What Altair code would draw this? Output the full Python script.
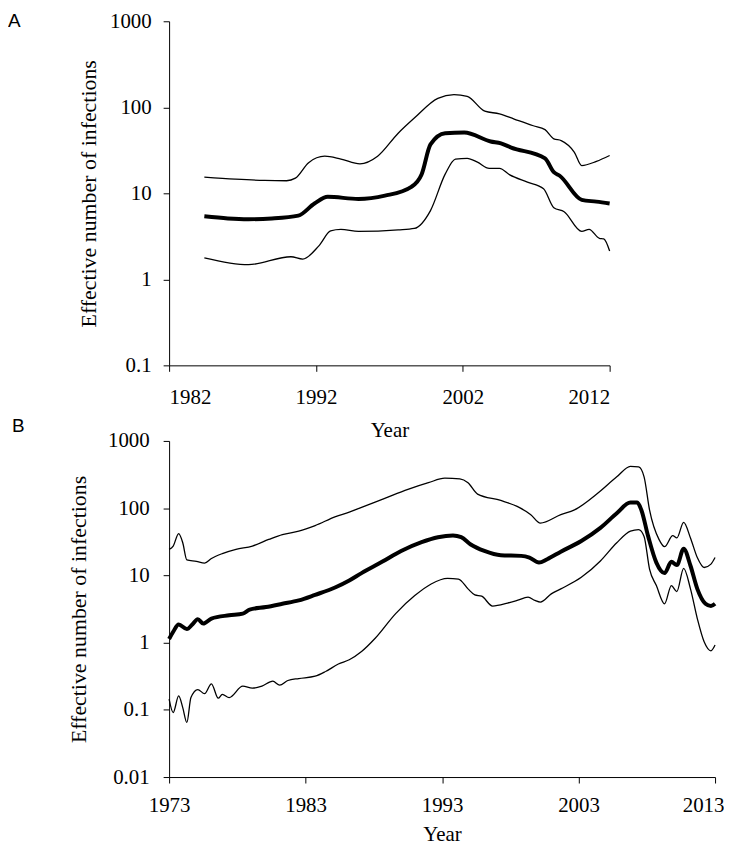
import altair as alt
import pandas as pd

# ---------------- Panel A data (year, effective number of infections) ----------------
A_upper = [(1984.4, 15.4), (1986.5, 14.6), (1988.5, 14.1), (1990.0, 14.0), (1990.6, 15.0),
           (1991.5, 22.7), (1992.6, 27), (1993.7, 25), (1995.0, 22), (1996.2, 27),
           (1997.6, 50), (1998.7, 75), (2000.3, 127), (2001.4, 140), (2002.3, 134),
           (2003.5, 90), (2004.5, 84), (2005.5, 73), (2006.8, 61), (2007.6, 55),
           (2008.2, 43), (2008.7, 41), (2009.6, 30), (2010.1, 21), (2011.1, 23.5), (2012.0, 27.5)]
A_median = [(1984.4, 5.4), (1986.0, 5.1), (1987.4, 5.0), (1989.0, 5.1), (1990.8, 5.5),
            (1991.9, 7.6), (1992.8, 9.1), (1994.9, 8.6), (1996.7, 9.4), (1998.5, 11.9),
            (1999.2, 16.7), (1999.8, 37), (2000.8, 50), (2002.1, 51), (2003.9, 40),
            (2004.6, 38), (2005.3, 34), (2007.6, 25.5), (2008.2, 17.6), (2008.6, 16),
            (2010.1, 8.4), (2011.1, 8.0), (2012.0, 7.6)]
A_lower = [(1984.4, 1.78), (1987.4, 1.48), (1990.3, 1.83), (1991.1, 1.72), (1992.2, 2.45),
           (1993.0, 3.65), (1993.7, 3.8), (1994.9, 3.6), (1997.6, 3.75), (1998.7, 3.9),
           (1999.8, 6.3), (2000.8, 16.7), (2001.5, 25), (2002.3, 25.5), (2003.0, 23),
           (2003.8, 19.5), (2004.5, 19.5), (2005.2, 16.4), (2006.4, 13.5), (2007.5, 11.3),
           (2008.2, 6.8), (2008.9, 6.1), (2010.1, 3.6), (2010.6, 3.8), (2011.3, 3.0),
           (2011.6, 2.95), (2012.0, 2.13)]

# ---------------- Panel B data ----------------
B_upper = [(1973.0, 24.4), (1973.3, 27.3), (1973.7, 41.9), (1974.0, 30.6), (1974.3, 17),
           (1975.0, 16.2), (1975.6, 15.2), (1976.1, 17.8), (1976.9, 21.1), (1977.9, 24.4),
           (1979.1, 27.3), (1980.3, 34.2), (1981.3, 40.5), (1982.5, 45.4), (1983.7, 55),
           (1985.2, 75), (1986.2, 87), (1987.1, 103), (1988.8, 140), (1990.5, 190),
           (1992.0, 239), (1993.2, 279), (1994.3, 273), (1994.9, 239), (1995.6, 162),
           (1997.3, 130), (1998.5, 106), (1999.5, 80), (2000.2, 60), (2001.7, 80),
           (2002.7, 94), (2004.4, 166), (2005.8, 292), (2006.8, 419), (2007.4, 410),
           (2007.8, 292), (2008.2, 94), (2008.9, 34), (2009.3, 26.7), (2009.9, 39),
           (2010.2, 36), (2010.7, 61.5), (2011.2, 36), (2011.7, 18.4), (2012.2, 13.1),
           (2012.7, 14.7), (2013.0, 18.4)]
B_median = [(1973.0, 1.13), (1973.3, 1.45), (1973.7, 1.86), (1974.3, 1.59), (1974.7, 1.86),
            (1975.1, 2.23), (1975.5, 1.92), (1976.1, 2.28), (1977.4, 2.55), (1978.4, 2.7),
            (1978.9, 3.09), (1980.1, 3.38), (1981.3, 3.78), (1982.5, 4.24), (1983.7, 5.13),
            (1985.2, 6.66), (1986.2, 8.4), (1987.1, 10.8), (1988.6, 15.9), (1990.0, 23.1),
            (1991.5, 31.3), (1992.7, 37), (1993.8, 39.2), (1994.4, 37), (1995.1, 28.8),
            (1996.1, 23.1), (1997.3, 19.9), (1998.8, 19.5), (1999.4, 18.4), (2000.1, 15.5),
            (2000.7, 17.4), (2001.7, 22.5), (2003.2, 32.4), (2004.6, 50.8), (2005.8, 84),
            (2006.8, 121), (2007.3, 121), (2007.6, 94), (2008.1, 38), (2008.7, 15.5),
            (2009.3, 10.8), (2009.8, 15.9), (2010.2, 14.2), (2010.7, 24.9), (2011.2, 13.9),
            (2011.7, 6.3), (2012.3, 3.78), (2012.7, 3.5), (2013.0, 3.78)]
B_lower = [(1973.0, 0.144), (1973.3, 0.091), (1973.7, 0.161), (1974.0, 0.108), (1974.3, 0.065),
           (1974.6, 0.152), (1975.1, 0.2), (1975.6, 0.174), (1976.1, 0.244), (1976.6, 0.149),
           (1976.9, 0.17), (1977.4, 0.152), (1978.4, 0.225), (1979.1, 0.21), (1979.8, 0.225),
           (1980.6, 0.267), (1981.1, 0.233), (1981.7, 0.273), (1982.5, 0.292), (1983.7, 0.316),
           (1984.5, 0.375), (1985.4, 0.48), (1986.2, 0.556), (1987.1, 0.737), (1988.1, 1.16),
           (1989.6, 2.7), (1991.0, 5.0), (1992.2, 7.45), (1993.4, 9.0), (1994.2, 8.8),
           (1994.9, 6.3), (1995.4, 5.13), (1995.9, 4.9), (1996.7, 3.5), (1997.8, 3.87),
           (1998.5, 4.24), (1999.3, 4.75), (1999.8, 4.24), (2000.2, 4.0), (2001.0, 5.3),
           (2001.7, 6.3), (2003.2, 9.35), (2004.6, 16.4), (2005.8, 30.6), (2006.8, 45.4),
           (2007.4, 48), (2007.8, 38), (2008.2, 12.4), (2008.7, 7.05), (2009.3, 3.78),
           (2009.8, 7.05), (2010.2, 5.75), (2010.7, 12.7), (2011.2, 6.3), (2011.7, 2.28),
           (2012.2, 1.03), (2012.7, 0.755), (2013.0, 0.92)]

A_xticks = [1982, 1992, 2002, 2012]
B_xticks = [1973, 1983, 1993, 2003, 2013]
A_yticks = [0.1, 1, 10, 100, 1000]
B_yticks = [0.01, 0.1, 1, 10, 100, 1000]

SERIF = "Liberation Serif"


def frame(series_map):
    rows = []
    for name, pts in series_map.items():
        for yr, v in pts:
            rows.append({"year": yr, "value": v, "series": name})
    return pd.DataFrame(rows)


def panel(thin_df, thick_df, letter, letter_x, letter_y, xdom, xticks, ydom, yticks,
          w, h, xaxis_extra, yaxis_extra):
    x_enc = alt.X("year:Q",
                  scale=alt.Scale(domain=xdom, nice=False, zero=False),
                  axis=alt.Axis(values=xticks, format="d", title="Year", tickSize=6,
                                labelFont=SERIF, titleFont=SERIF, labelFontSize=21,
                                titleFontSize=21, titleFontWeight="normal", **xaxis_extra))
    y_enc = alt.Y("value:Q",
                  scale=alt.Scale(type="log", domain=ydom, nice=False),
                  axis=alt.Axis(values=yticks, format="~g", title="Effective number of infections",
                                tickSize=6, labelFont=SERIF, titleFont=SERIF, labelFontSize=21,
                                titleFontSize=22, titleFontWeight="normal", **yaxis_extra))
    thin = alt.Chart(thin_df).mark_line(
        interpolate="monotone", color="black", strokeWidth=1.3
    ).encode(x=x_enc, y=y_enc, detail="series:N")
    thick = alt.Chart(thick_df).mark_line(
        interpolate="monotone", color="black", strokeWidth=4
    ).encode(x="year:Q", y="value:Q")
    lab = alt.Chart(pd.DataFrame({"label": [letter]})).mark_text(
        align="left", baseline="middle", font="Liberation Sans", fontSize=19, color="black"
    ).encode(x=alt.value(letter_x), y=alt.value(letter_y), text="label:N")
    return alt.layer(thin, thick, lab).properties(width=w, height=h)


chartA = panel(frame({"upper": A_upper, "lower": A_lower}), frame({"median": A_median}),
               "A", -162, 0, [1982, 2012], A_xticks, [0.1, 1000], A_yticks, 443, 346,
               dict(labelFlush=True, labelPadding=15, titlePadding=13),
               dict(labelPadding=12, titlePadding=9))
chartB = panel(frame({"upper": B_upper, "lower": B_lower}), frame({"median": B_median}),
               "B", -158, -15, [1973, 2013], B_xticks, [0.01, 1000], B_yticks, 549, 338,
               dict(labelFlush=False, labelPadding=12, titlePadding=8,
                    labelOffset={"condition": {"test": "datum.value == 2013", "value": -12}, "value": 0}),
               dict(labelPadding=14, titlePadding=17))

chart = alt.vconcat(chartA, chartB, spacing=-33).properties(
    padding={"left": 0, "top": 0, "right": 0, "bottom": 0}
).configure_view(stroke=None).configure_axis(
    grid=False, domainColor="black", tickColor="black", labelColor="black",
    titleColor="black", domainWidth=1, tickWidth=1
)

chart.save("out.html", embed_options={"renderer": "svg", "actions": False})
